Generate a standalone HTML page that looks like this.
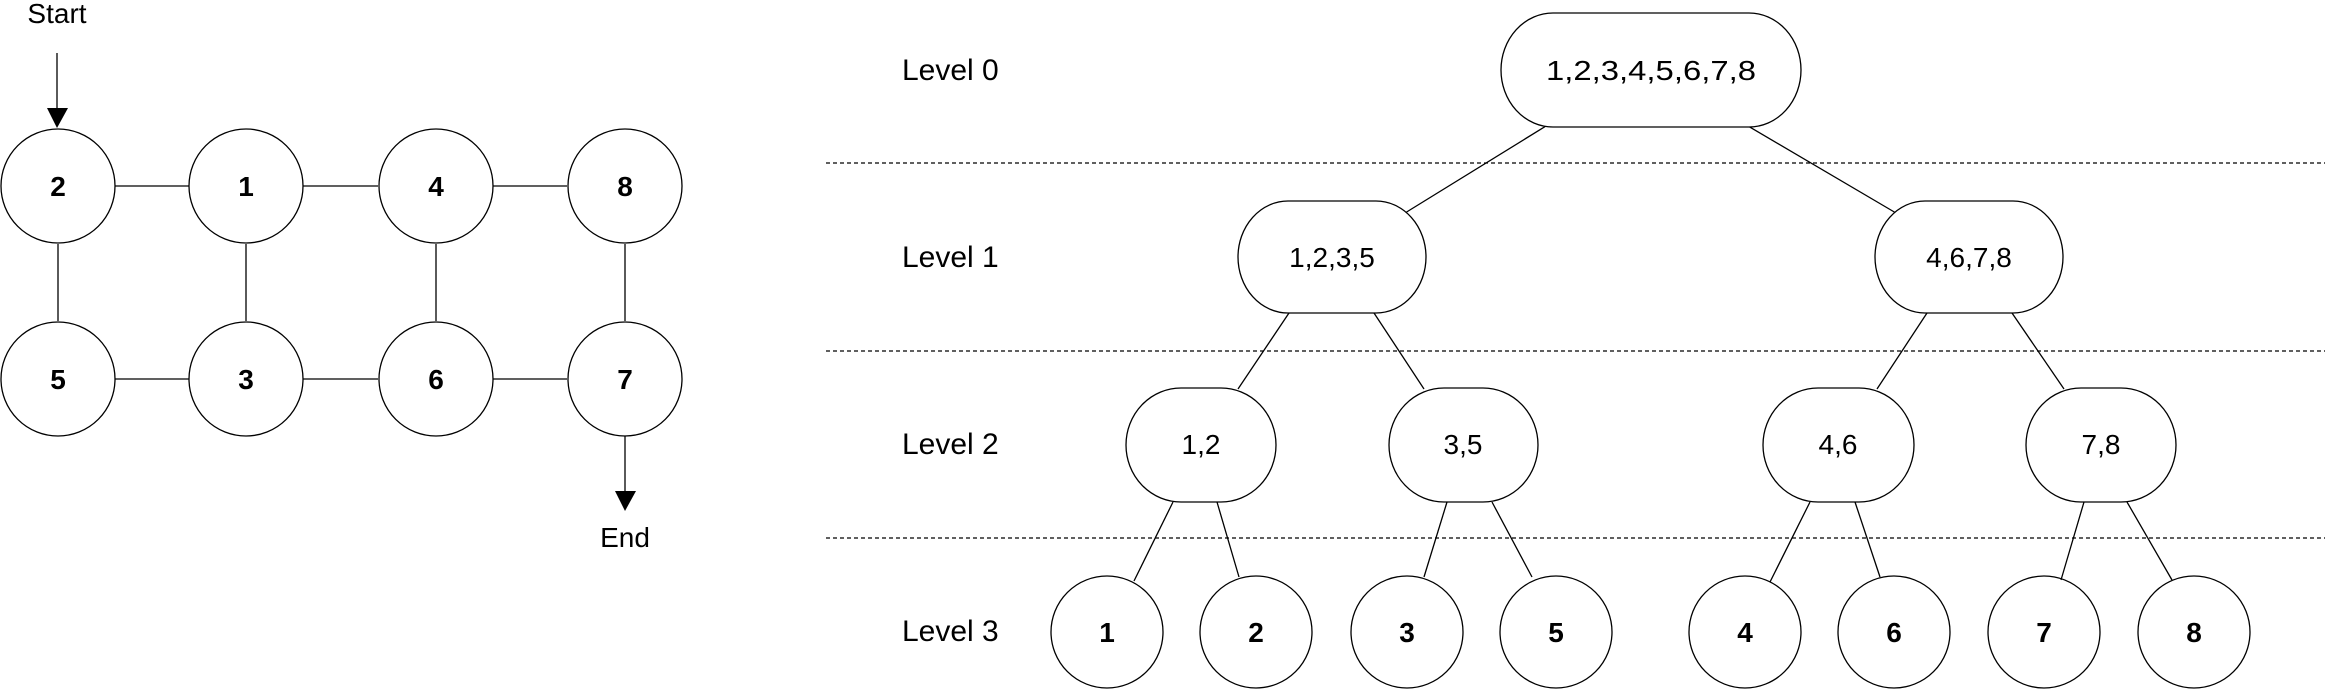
<!DOCTYPE html>
<html><head><meta charset="utf-8"><style>html,body{margin:0;padding:0;background:#fff}svg{display:block}</style></head>
<body>
<svg width="2325" height="690" viewBox="0 0 2325 690" xmlns="http://www.w3.org/2000/svg" font-family="Liberation Sans, sans-serif">
<g stroke="#000" stroke-width="1.3" fill="none">
<line x1="115" y1="186" x2="189" y2="186"/><line x1="303" y1="186" x2="378" y2="186"/><line x1="493" y1="186" x2="567" y2="186"/>
<line x1="115" y1="379" x2="189" y2="379"/><line x1="303" y1="379" x2="378" y2="379"/><line x1="493" y1="379" x2="567" y2="379"/>
<line x1="58" y1="244" x2="58" y2="321"/><line x1="246" y1="244" x2="246" y2="321"/><line x1="436" y1="244" x2="436" y2="321"/><line x1="625" y1="244" x2="625" y2="321"/>
<line x1="57" y1="53" x2="57" y2="110"/><line x1="625" y1="436" x2="625" y2="493"/>
<circle cx="58" cy="186" r="57"/><circle cx="246" cy="186" r="57"/><circle cx="436" cy="186" r="57"/><circle cx="625" cy="186" r="57"/>
<circle cx="58" cy="379" r="57"/><circle cx="246" cy="379" r="57"/><circle cx="436" cy="379" r="57"/><circle cx="625" cy="379" r="57"/>
<g stroke-dasharray="4,3" stroke-width="1.2"><line x1="826" y1="163" x2="2325" y2="163"/><line x1="826" y1="351" x2="2325" y2="351"/><line x1="826" y1="538" x2="2325" y2="538"/></g>
<line x1="1546" y1="126" x2="1405" y2="213"/><line x1="1748" y1="126" x2="1896" y2="213"/>
<line x1="1289" y1="313" x2="1238" y2="389"/><line x1="1374" y1="313" x2="1424" y2="389"/>
<line x1="1927" y1="313" x2="1877" y2="389"/><line x1="2012" y1="313" x2="2064" y2="389"/>
<line x1="1173" y1="502" x2="1134" y2="581"/><line x1="1217" y1="502" x2="1239" y2="577"/>
<line x1="1447" y1="502" x2="1424" y2="577"/><line x1="1492" y1="502" x2="1532" y2="577"/>
<line x1="1810" y1="502" x2="1770" y2="582"/><line x1="1855" y1="502" x2="1880" y2="577"/>
<line x1="2084" y1="502" x2="2061" y2="580"/><line x1="2127" y1="502" x2="2172" y2="580"/>
<rect x="1501" y="13" width="300" height="114" rx="52" ry="57" fill="#fff"/>
<rect x="1238" y="201" width="188" height="112" rx="50" ry="56" fill="#fff"/>
<rect x="1875" y="201" width="188" height="112" rx="50" ry="56" fill="#fff"/>
<rect x="1126" y="388" width="150" height="114" rx="55" ry="57" fill="#fff"/>
<rect x="1389" y="388" width="149" height="114" rx="55" ry="57" fill="#fff"/>
<rect x="1763" y="388" width="151" height="114" rx="55" ry="57" fill="#fff"/>
<rect x="2026" y="388" width="150" height="114" rx="55" ry="57" fill="#fff"/>
<circle cx="1107" cy="632" r="56"/><circle cx="1256" cy="632" r="56"/><circle cx="1407" cy="632" r="56"/><circle cx="1556" cy="632" r="56"/>
<circle cx="1745" cy="632" r="56"/><circle cx="1894" cy="632" r="56"/><circle cx="2044" cy="632" r="56"/><circle cx="2194" cy="632" r="56"/>
</g>
<polygon points="47,108 68,108 57,128" fill="#000"/>
<polygon points="615,491 636,491 625,511" fill="#000"/>
<g font-size="28" text-anchor="middle" fill="#000">
<text x="57" y="23">Start</text>
<text x="625" y="547">End</text>
</g>
<g font-size="28" font-weight="bold" text-anchor="middle" fill="#000">
<text x="58" y="196">2</text><text x="246" y="196">1</text><text x="436" y="196">4</text><text x="625" y="196">8</text>
<text x="58" y="389">5</text><text x="246" y="389">3</text><text x="436" y="389">6</text><text x="625" y="389">7</text>
<text x="1107" y="642">1</text><text x="1256" y="642">2</text><text x="1407" y="642">3</text><text x="1556" y="642">5</text>
<text x="1745" y="642">4</text><text x="1894" y="642">6</text><text x="2044" y="642">7</text><text x="2194" y="642">8</text>
</g>
<g font-size="30" fill="#000">
<text x="902" y="80">Level 0</text>
<text x="902" y="267">Level 1</text>
<text x="902" y="454">Level 2</text>
<text x="902" y="641">Level 3</text>
</g>
<g font-size="28" text-anchor="middle" fill="#000">
<text x="1651" y="80" textLength="210" lengthAdjust="spacingAndGlyphs">1,2,3,4,5,6,7,8</text>
<text x="1332" y="267">1,2,3,5</text>
<text x="1969" y="267">4,6,7,8</text>
<text x="1201" y="454">1,2</text>
<text x="1463" y="454">3,5</text>
<text x="1838" y="454">4,6</text>
<text x="2101" y="454">7,8</text>
</g>
</svg>
</body></html>
